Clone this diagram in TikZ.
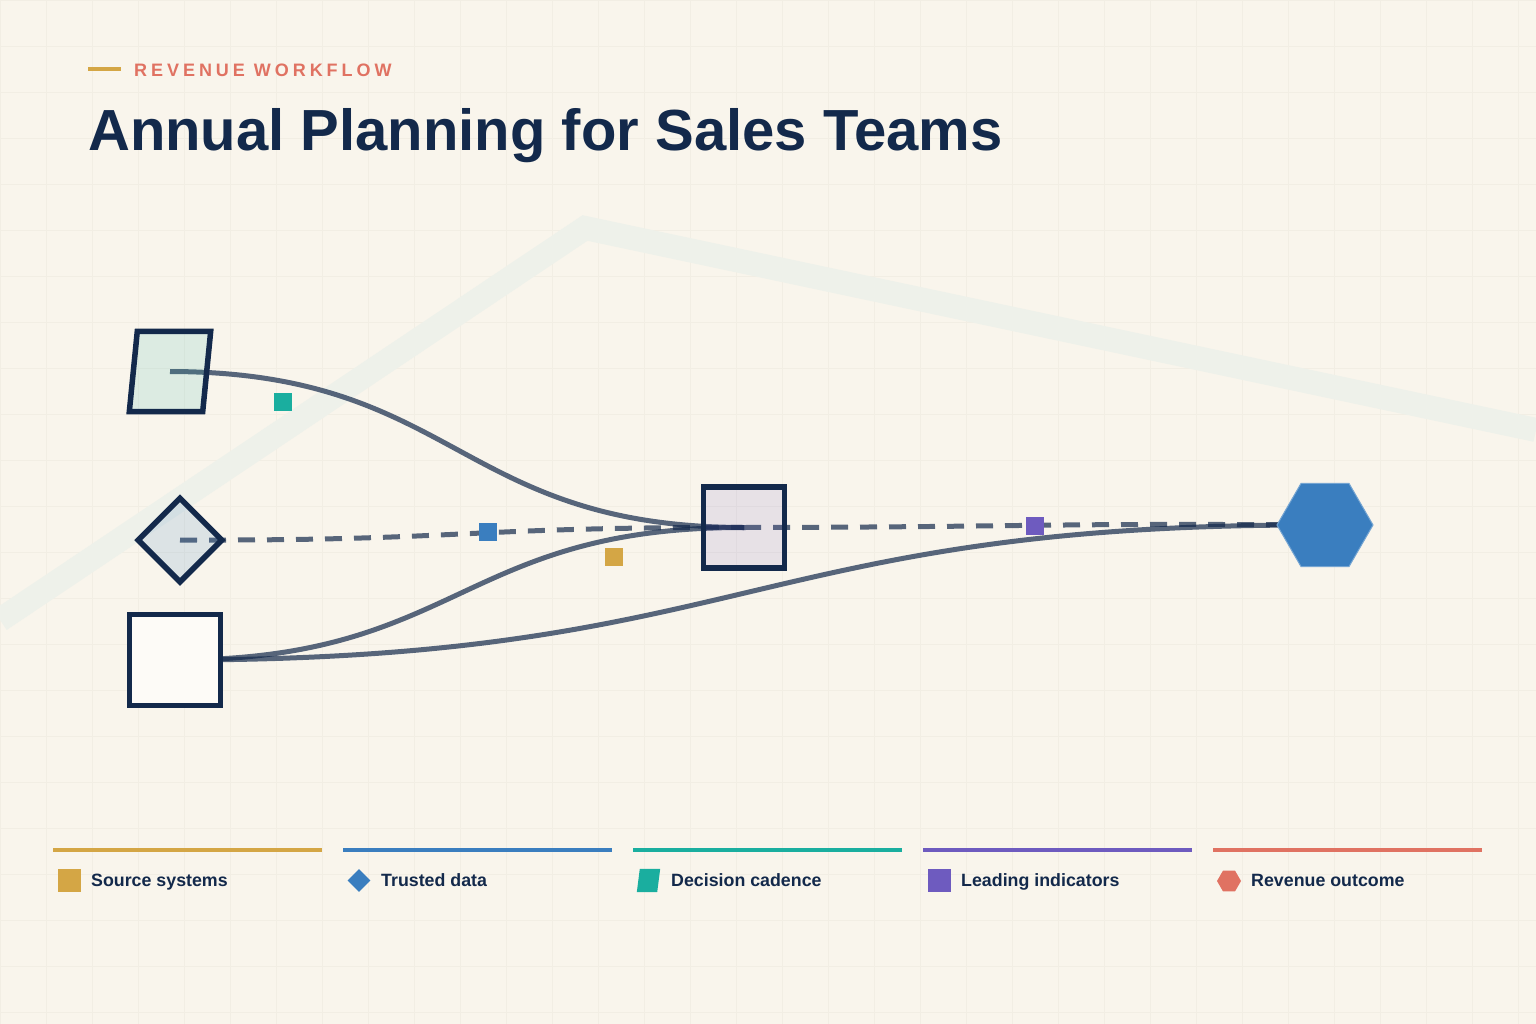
\documentclass[tikz,border=0pt]{standalone}
\usepackage{fontspec}
\setmainfont{Liberation Sans}
\usetikzlibrary{shapes.geometric}

\definecolor{navy}{HTML}{13294B}
\definecolor{gold}{HTML}{D4A645}
\definecolor{blue}{HTML}{3A7EBF}
\definecolor{teal}{HTML}{1AAE9F}
\definecolor{purple}{HTML}{6E5BBF}
\definecolor{salmon}{HTML}{E07262}
\definecolor{paper}{HTML}{F9F5EC}
\definecolor{gridline}{HTML}{F2EEE4}
\definecolor{band}{HTML}{EEF1EA}

\pgfdeclarelayer{bg}
\pgfdeclarelayer{edges}
\pgfsetlayers{bg,edges,main}

\tikzset{
  shapebox/.style={draw=navy, line width=5.5pt, inner sep=0pt},
  flow/.style={draw=navy, draw opacity=0.7, line width=5pt},
  flowdash/.style={flow, dash pattern=on 17pt off 12pt},
  marker/.style={minimum size=18pt, inner sep=0pt},
  legendline/.style={line width=4pt},
  legendicon/.style={inner sep=0pt, minimum size=23pt},
  legendtext/.style={anchor=base west, inner sep=0pt, text=navy,
    font=\fontsize{17.8}{20}\selectfont\bfseries},
}

\begin{document}
\begin{tikzpicture}[x=1pt, y=-1pt]
    \useasboundingbox (0,0) rectangle (1536,1024);

    % background
    \begin{pgfonlayer}{bg}
        \fill[paper] (0,0) rectangle (1536,1024);
        \foreach \gx in {0,46,...,1536}
            \draw[gridline, line width=0.7pt] (\gx,0) -- (\gx,1024);
        \foreach \gy in {0,46,...,1024}
            \draw[gridline, line width=0.7pt] (0,\gy) -- (1536,\gy);
        \draw[band, line width=24pt] (0,620) -- (585,228) -- (1536,430);
    \end{pgfonlayer}

    % heading
    \draw[gold, line width=4pt] (88,69) -- (121,69);
    \node[anchor=base west, inner sep=0pt, text=salmon,
        font=\fontsize{18}{20}\selectfont\bfseries\addfontfeatures{LetterSpace=22}]
        (eyebrow) at (134,77) {REVENUE\ WORKFLOW};
    \node[anchor=base west, inner sep=0pt, text=navy,
        font=\fontsize{58}{64}\selectfont\bfseries]
        (title) at (88,151) {Annual Planning for Sales Teams};

    % nodes
    \node[inner sep=0pt, minimum width=81pt, minimum height=80pt] (cadence) at (170,371.5) {};
    \filldraw[shapebox, fill=teal, fill opacity=0.13, line join=miter]
        ([xshift=8pt]cadence.north west) -- (cadence.north east)
        -- ([xshift=-8pt]cadence.south east) -- (cadence.south west) -- cycle;
    \node[shapebox, diamond, minimum width=86pt, minimum height=86pt,
        fill=blue, fill opacity=0.15] (trusted) at (180,540) {};
    \node[shapebox, rectangle, minimum size=91pt,
        fill=white!60!paper] (source) at (175,660) {};
    \node[shapebox, rectangle, minimum size=81pt,
        fill=purple, fill opacity=0.13] (leading) at (744,527.5) {};
    \node[regular polygon, regular polygon sides=6, minimum size=96pt,
        inner sep=0pt, fill=blue, draw=blue!70!white, line width=1pt]
        (revenue) at (1325,525) {};

    % connectors
    \begin{pgfonlayer}{edges}
        \draw[flow] (cadence.center) .. controls (457,372) and (457,527) .. (leading.center);
        \draw[flowdash] (trusted.center) .. controls (462,541) and (462,527) .. (leading.center);
        \draw[flowdash] (leading.center) .. controls (1035,527) and (1035,523) .. (revenue.center);
        \draw[flow] (source.center) .. controls (460,660) and (460,527) .. (leading.center);
        \draw[flow] (source.center) .. controls (750,660) and (750,523) .. (revenue.center);
    \end{pgfonlayer}

    % markers
    \node[marker, fill=teal] (mkcadence) at (283,402) {};
    \node[marker, fill=blue] (mktrusted) at (488,532) {};
    \node[marker, fill=gold] (mksource) at (614,557) {};
    \node[marker, fill=purple] (mkleading) at (1035,526) {};

    % legend
    \foreach \lx/\lc in {53/gold,343/blue,633/teal,923/purple,1213/salmon}
        \draw[legendline, \lc] (\lx,850) -- ++(269,0);

    \node[legendicon, rectangle, fill=gold] (lgsource) at (69.5,880.5) {};
    \node[legendicon, diamond, fill=blue] (lgtrusted) at (359,880.5) {};
    \node[inner sep=0pt, minimum width=23pt, minimum height=23pt] (lgcadence) at (648.5,880.5) {};
    \fill[teal] ([xshift=3pt]lgcadence.north west) -- (lgcadence.north east)
        -- ([xshift=-3pt]lgcadence.south east) -- (lgcadence.south west) -- cycle;
    \node[legendicon, rectangle, fill=purple] (lgleading) at (939,880.5) {};
    \node[regular polygon, regular polygon sides=6, minimum size=24pt,
        inner sep=0pt, fill=salmon] (lgrevenue) at (1229,881) {};

    \node[legendtext] (txsource) at (91,886) {Source systems};
    \node[legendtext] (txtrusted) at (381,886) {Trusted data};
    \node[legendtext] (txcadence) at (671,886) {Decision cadence};
    \node[legendtext] (txleading) at (961,886) {Leading indicators};
    \node[legendtext] (txrevenue) at (1251,886) {Revenue outcome};
\end{tikzpicture}
\end{document}
